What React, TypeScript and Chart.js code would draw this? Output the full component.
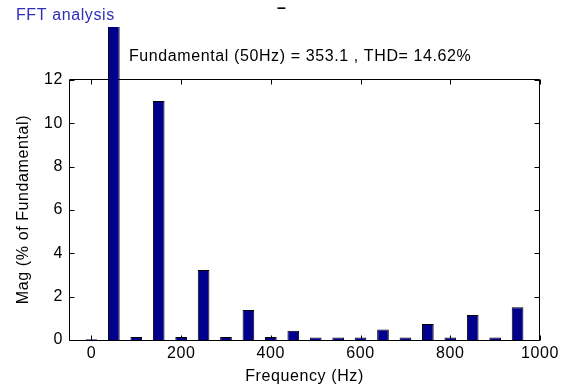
import React, { useEffect, useRef } from 'react';
import { Chart, registerables } from 'chart.js';

Chart.register(...registerables);

// ---- data ----
const freqs = [0, 50, 100, 150, 200, 250, 300, 350, 400, 450, 500, 550, 600, 650, 700, 750, 800, 850, 900, 950];
const mags = [0.04, 100, 0.14, 11.04, 0.14, 3.23, 0.14, 1.38, 0.14, 0.43, 0.12, 0.12, 0.12, 0.49, 0.12, 0.74, 0.12, 1.15, 0.12, 1.51];
const xTicks = [0, 200, 400, 600, 800, 1000];
const yTicks = [0, 2, 4, 6, 8, 10, 12];
const windowTitle = 'FFT analysis';
const infoText = 'Fundamental (50Hz) = 353.1 , THD= 14.62%';
const dashText = '\u2013';
const xLabel = 'Frequency (Hz)';
const yLabel = 'Mag (% of Fundamental)';

const FAMILY = '"Liberation Sans", Arial, sans-serif';

const framePlugin = {
  id: 'frame',
  beforeDraw(chart: any) {
    const ctx = chart.ctx as any;
    ctx.letterSpacing = '0.6px';
  },
  beforeDatasetsDraw(chart: any) {
    const { ctx, chartArea, scales } = chart;
    const { left, right, top, bottom } = chartArea;
    const L = left + 0.5;
    const R = right - 0.5;
    const T = top + 0.5;
    const B = bottom + 0.5;
    ctx.save();
    ctx.strokeStyle = '#000';
    ctx.lineWidth = 1;
    ctx.beginPath();
    ctx.moveTo(L, T);
    ctx.lineTo(R, T);
    ctx.lineTo(R, B);
    ctx.lineTo(L, B);
    ctx.closePath();
    const tl = 5;
    xTicks.forEach((v) => {
      const px = Math.round(scales.x.getPixelForValue(v)) + 0.5;
      ctx.moveTo(px, B);
      ctx.lineTo(px, B - tl);
      ctx.moveTo(px, T);
      ctx.lineTo(px, T + tl);
    });
    yTicks.forEach((v) => {
      const py = Math.round(scales.y.getPixelForValue(v)) + 0.5;
      ctx.moveTo(L, py);
      ctx.lineTo(L + tl, py);
      ctx.moveTo(R, py);
      ctx.lineTo(R - tl, py);
    });
    ctx.stroke();
    ctx.restore();
  },
  afterDraw(chart: any) {
    const ctx = chart.ctx as any;
    ctx.save();
    ctx.letterSpacing = '0.6px';
    ctx.textAlign = 'left';
    ctx.textBaseline = 'alphabetic';
    ctx.font = `16px ${FAMILY}`;
    ctx.fillStyle = '#2E2EB8';
    ctx.fillText(windowTitle, 16, 20);
    ctx.fillStyle = '#000';
    ctx.fillText(infoText, 129, 61);
    ctx.font = `bold 16px ${FAMILY}`;
    ctx.fillText(dashText, 277, 13);
    ctx.restore();
  },
};

export default function App() {
  const canvasRef = useRef<HTMLCanvasElement | null>(null);

  useEffect(() => {
    const canvas = canvasRef.current;
    if (!canvas) return;
    const chart = new Chart(canvas, {
      type: 'bar',
      data: {
        datasets: [
          {
            data: freqs.map((f, i) => ({ x: f, y: mags[i] })),
            backgroundColor: '#00008C',
            borderColor: '#000000',
            borderWidth: 1,
            borderSkipped: 'start',
            barPercentage: 0.52,
            categoryPercentage: 1,
            clip: { left: 10, top: 52, right: 10, bottom: 0 },
          } as any,
        ],
      },
      options: {
        animation: false,
        responsive: false,
        devicePixelRatio: 1,
        layout: { padding: { left: 0, top: 79, right: 25, bottom: 0 } },
        plugins: {
          legend: { display: false },
          tooltip: { enabled: false },
        },
        scales: {
          x: {
            type: 'linear',
            min: -50,
            max: 1000,
            offset: false,
            grid: { display: false, drawTicks: false },
            border: { display: false },
            afterBuildTicks: (s: any) => {
              s.ticks = xTicks.map((v) => ({ value: v }));
            },
            afterFit: (s: any) => {
              s.height = 50;
            },
            ticks: {
              color: '#000',
              font: { family: FAMILY, size: 16 },
              padding: 4,
              maxRotation: 0,
              autoSkip: false,
              callback: (v: any) => String(v),
            },
            title: {
              display: true,
              text: xLabel,
              color: '#000',
              font: { family: FAMILY, size: 16 },
              padding: { top: 0, bottom: 4 },
            },
          },
          y: {
            type: 'linear',
            min: 0,
            max: 12.05,
            grid: { display: false, drawTicks: false },
            border: { display: false },
            afterBuildTicks: (s: any) => {
              s.ticks = yTicks.map((v) => ({ value: v }));
            },
            afterFit: (s: any) => {
              s.width = 69;
            },
            ticks: {
              color: '#000',
              font: { family: FAMILY, size: 16 },
              padding: 6,
              autoSkip: false,
              callback: (v: any) => String(v),
            },
            title: {
              display: true,
              text: yLabel,
              color: '#000',
              font: { family: FAMILY, size: 16 },
              padding: { top: 14, bottom: 0 },
            },
          },
        },
      } as any,
      plugins: [framePlugin],
    });
    return () => chart.destroy();
  }, []);

  return (
    <div style={{ position: 'absolute', left: 0, top: 0, width: 565, height: 390, background: '#fff' }}>
      <canvas ref={canvasRef} width={565} height={390} style={{ display: 'block' }} />
    </div>
  );
}
